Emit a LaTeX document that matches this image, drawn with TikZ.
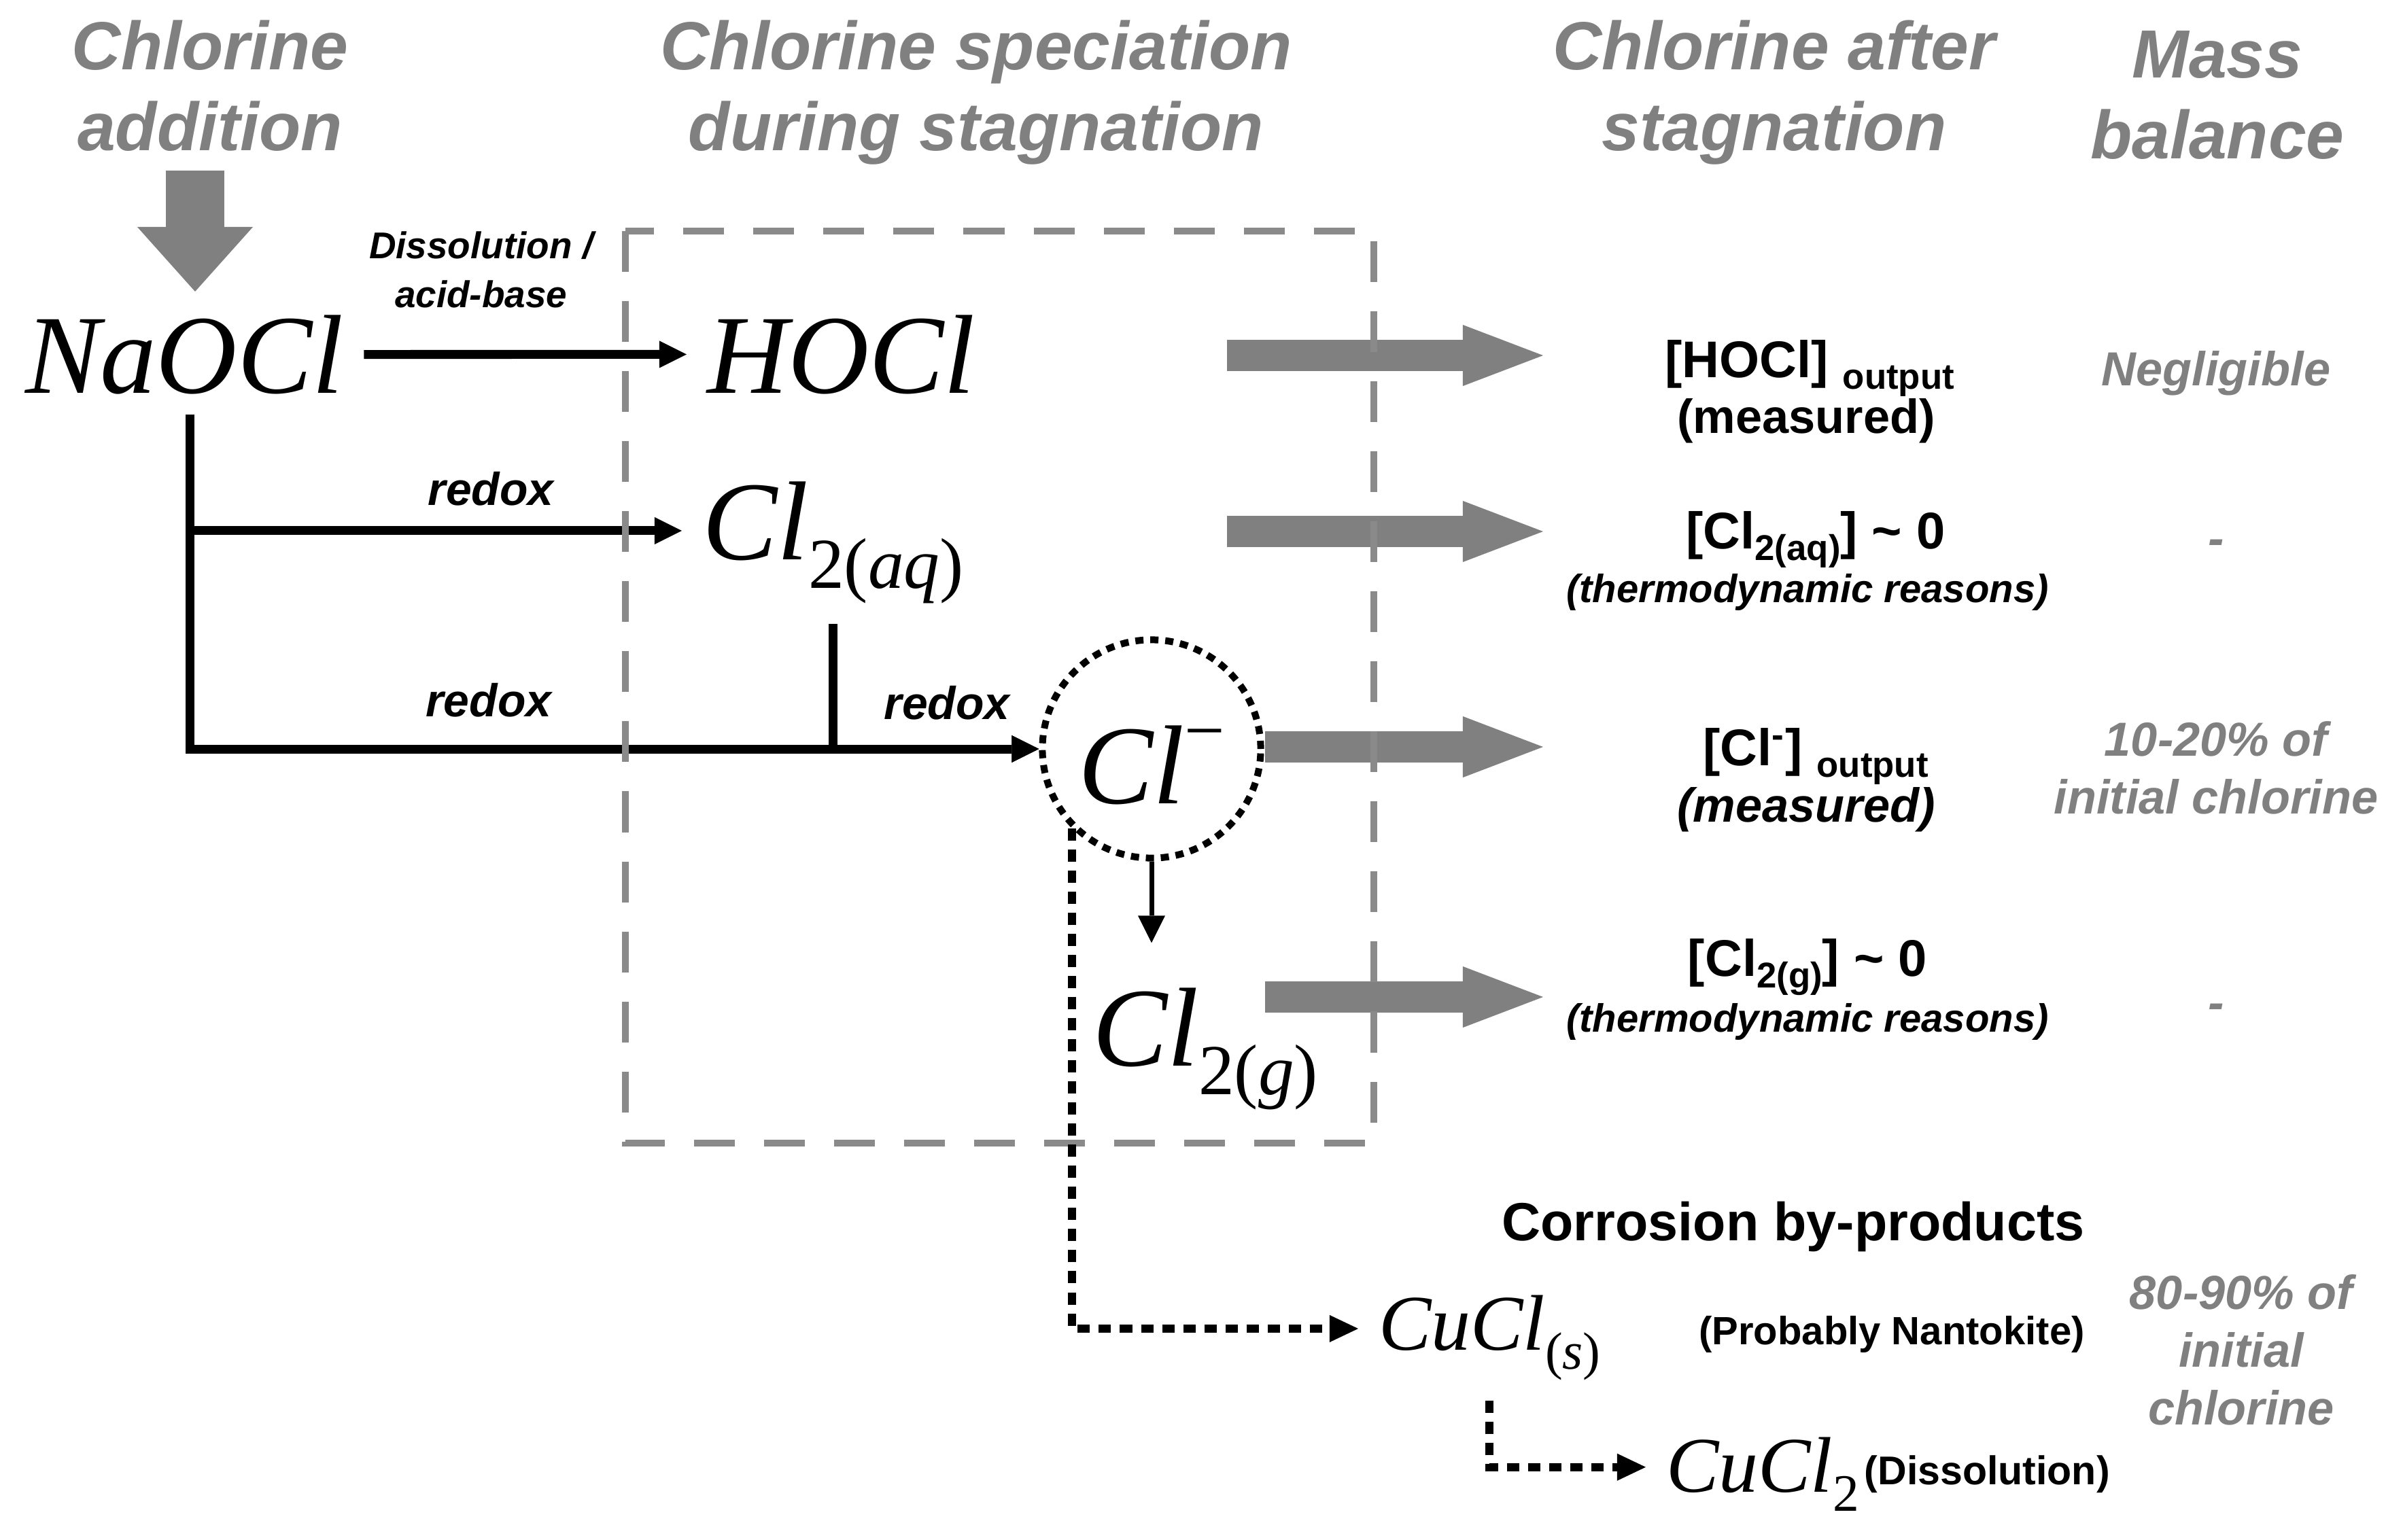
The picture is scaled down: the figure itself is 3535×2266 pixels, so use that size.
\documentclass[tikz,border=0pt]{standalone}
\usepackage{fontspec}
\setmainfont{Liberation Sans}
\newfontfamily\specfont{Liberation Serif}
\usetikzlibrary{arrows.meta}

\definecolor{headgray}{RGB}{128,128,128}
\definecolor{boxgray}{RGB}{138,138,138}

\newcommand{\spsub}[1]{\raisebox{-0.42cm}{\fontsize{30}{30}\selectfont\upshape #1}}
\newcommand{\cusub}[1]{\raisebox{-0.28cm}{\fontsize{22}{22}\selectfont\upshape #1}}
\newcommand{\outsub}[1]{\raisebox{-0.17cm}{\fontsize{15}{15}\selectfont #1}}

\begin{document}
\begin{tikzpicture}[x=0.01cm, y=-0.01cm,
  head/.style={font=\bfseries\itshape\fontsize{28.5}{33.9}\selectfont, text=headgray, align=center, anchor=north, inner sep=0pt},
  species/.style={font=\specfont\itshape\fontsize{47}{50}\selectfont, anchor=base west, inner sep=0pt, outer sep=0.3cm},
  cuspecies/.style={species, font=\specfont\itshape\fontsize{33}{36}\selectfont},
  lbl/.style={font=\bfseries\itshape\fontsize{19.3}{22}\selectfont, inner sep=0pt},
  smalllbl/.style={font=\bfseries\itshape\fontsize{15.6}{20.5}\selectfont, inner sep=0pt, align=center},
  result/.style={font=\bfseries\fontsize{21.6}{24}\selectfont, anchor=base, inner sep=0pt},
  note/.style={font=\bfseries\itshape\fontsize{16.5}{20}\selectfont, anchor=base, inner sep=0pt},
  mass/.style={font=\bfseries\itshape\fontsize{20}{24.2}\selectfont, text=headgray, align=center, inner sep=0pt},
  flow/.style={line width=0.13cm, -{Triangle[length=0.4cm, width=0.4cm, line width=0pt]}},
  dotflow/.style={line width=0.12cm, dash pattern=on 0.18cm off 0.13cm, -{Triangle[length=0.42cm, width=0.4cm, line width=0pt]}},
  bigarrow/.style={draw=headgray, line width=0.46cm, -{Triangle[length=1.18cm, width=0.9cm, line width=0pt]}},
  stagbox/.style={draw=boxgray, line width=0.1cm, dash pattern=on 0.6cm off 0.43cm}]
\useasboundingbox (0,0) rectangle (3535,2266);

% Column headings
\node (addhead)   [head] at (309,29)   {Chlorine\\addition};
\node (spechead)  [head] at (1436,29)  {Chlorine speciation\\during stagnation};
\node (afterhead) [head] at (2610,29)  {Chlorine after\\stagnation};
\node (masshead)  [head] at (3262,45)  {Mass\\balance};

% Specification of species (position, etc.)
\node (naocl)  [species]   at (7,578)    {NaOCl};
\node (hocl)   [species]   at (1010,578) {HOCl};
\node (cl2aq)  [species]   at (1003,823) {Cl\spsub{2(\textit{aq})}};
\node (clm)    [circle, draw, line width=0.1cm, dash pattern=on 0.12cm off 0.1cm, minimum size=3.21cm, inner sep=0pt,
                font=\specfont\itshape\fontsize{47}{50}\selectfont] at (1694,1102)
               {\raisebox{-0.8cm}[0pt][0pt]{Cl\raisebox{0.72cm}{\fontsize{30}{30}\selectfont\upshape −}}};
\node (cl2g)   [species]   at (1577,1568) {Cl\spsub{2(\textit{g})}};
\node (cucl)   [cuspecies] at (1998,1986) {CuCl\cusub{(\textit{s})}};
\node (cucl2)  [cuspecies] at (2421,2195) {CuCl\cusub{2}};
\node (dissol) [result, anchor=base west, font=\bfseries\fontsize{16.8}{20}\selectfont] at (2742,2184) {(Dissolution)};

% Chlorine after stagnation
\node (hoclout)   [result] at (2662,555)  {[HOCl] \outsub{output}};
\node (hoclnote)  [result, font=\bfseries\fontsize{20}{24}\selectfont] at (2657,637) {(measured)};
\node (cl2aqout)  [result] at (2671,807)  {[Cl\outsub{2(aq)}] \textasciitilde\ 0};
\node (cl2aqnote) [note]   at (2659,886)  {(thermodynamic reasons)};
\node (clmout)    [result] at (2671,1126) {[Cl\textsuperscript{-}] \outsub{output}};
\node (clmnote)   [note, font=\bfseries\itshape\fontsize{20}{24}\selectfont] at (2657,1209) {(measured)};
\node (cl2gout)   [result] at (2659,1436) {[Cl\outsub{2(g)}] \textasciitilde\ 0};
\node (cl2gnote)  [note]   at (2659,1518) {(thermodynamic reasons)};
\node (corrhead)  [result, font=\bfseries\fontsize{22.5}{26}\selectfont] at (2638,1825) {Corrosion by-products};
\node (nantokite) [result, font=\bfseries\fontsize{16.5}{20}\selectfont] at (2783,1978) {(Probably Nantokite)};

% Mass balance
\node (hoclmass)  [mass, anchor=base] at (3260,567) {Negligible};
\node (cl2aqmass) [mass] at (3260,805)  {-};
\node (clmmass)   [mass] at (3260,1130) {10-20\% of\\initial chlorine};
\node (cl2gmass)  [mass] at (3260,1488) {-};
\node (cumass)    [mass] at (3297,1986) {80-90\% of\\initial\\chlorine};

% Reactions
\draw[flow] (naocl) -- node[smalllbl, pos=0.363, above=0.62cm] (dissolab) {Dissolution /\\acid-base} (hocl);
\draw[flow] ([xshift=0.08cm]naocl.south) |- node[lbl, pos=0.806, above=0.3cm] (redoxa) {redox} ([yshift=0.17cm]cl2aq.west);
\draw[flow] ([xshift=0.08cm]naocl.south) |- node[lbl, pos=0.676, above=0.4cm] (redoxb) {redox} (clm.west);
\draw[flow] (cl2aq.south) |- node[lbl, pos=0.777, above=0.36cm] (redoxc) {redox} (clm.west);
\draw[flow, line width=0.07cm, shorten >=0.36cm] (clm.south) -- (clm.south |- cl2g.north);

% Grey block arrows
\coordinate (addfrom)   at (287,251);
\coordinate (addto)     at (287,429);
\coordinate (hoclfrom)  at (1805,523);
\coordinate (hoclto)    at (2270,523);
\coordinate (cl2aqfrom) at (1805,782);
\coordinate (cl2aqto)   at (2270,782);
\coordinate (clmfrom)   at (1861,1099);
\coordinate (clmto)     at (2270,1099);
\coordinate (cl2gfrom)  at (1861,1467);
\coordinate (cl2gto)    at (2270,1467);

\draw[bigarrow, line width=0.85cm, -{Triangle[length=0.95cm, width=1.7cm, line width=0pt]}] (addfrom) -- (addto);
\draw[bigarrow] (hoclfrom) -- (hoclto);
\draw[bigarrow] (cl2aqfrom) -- (cl2aqto);
\draw[bigarrow] (clmfrom) -- (clmto);
\draw[bigarrow] (cl2gfrom) -- (cl2gto);

% Stagnation box
\draw[stagbox] (920,340) rectangle (2021,1682);

% Corrosion path
\draw[dotflow] (clm.south west) |- ([yshift=0.13cm]cucl.west);
\draw[dotflow] (cucl.south) |- ([yshift=0.1cm]cucl2.west);

\end{tikzpicture}
\end{document}
